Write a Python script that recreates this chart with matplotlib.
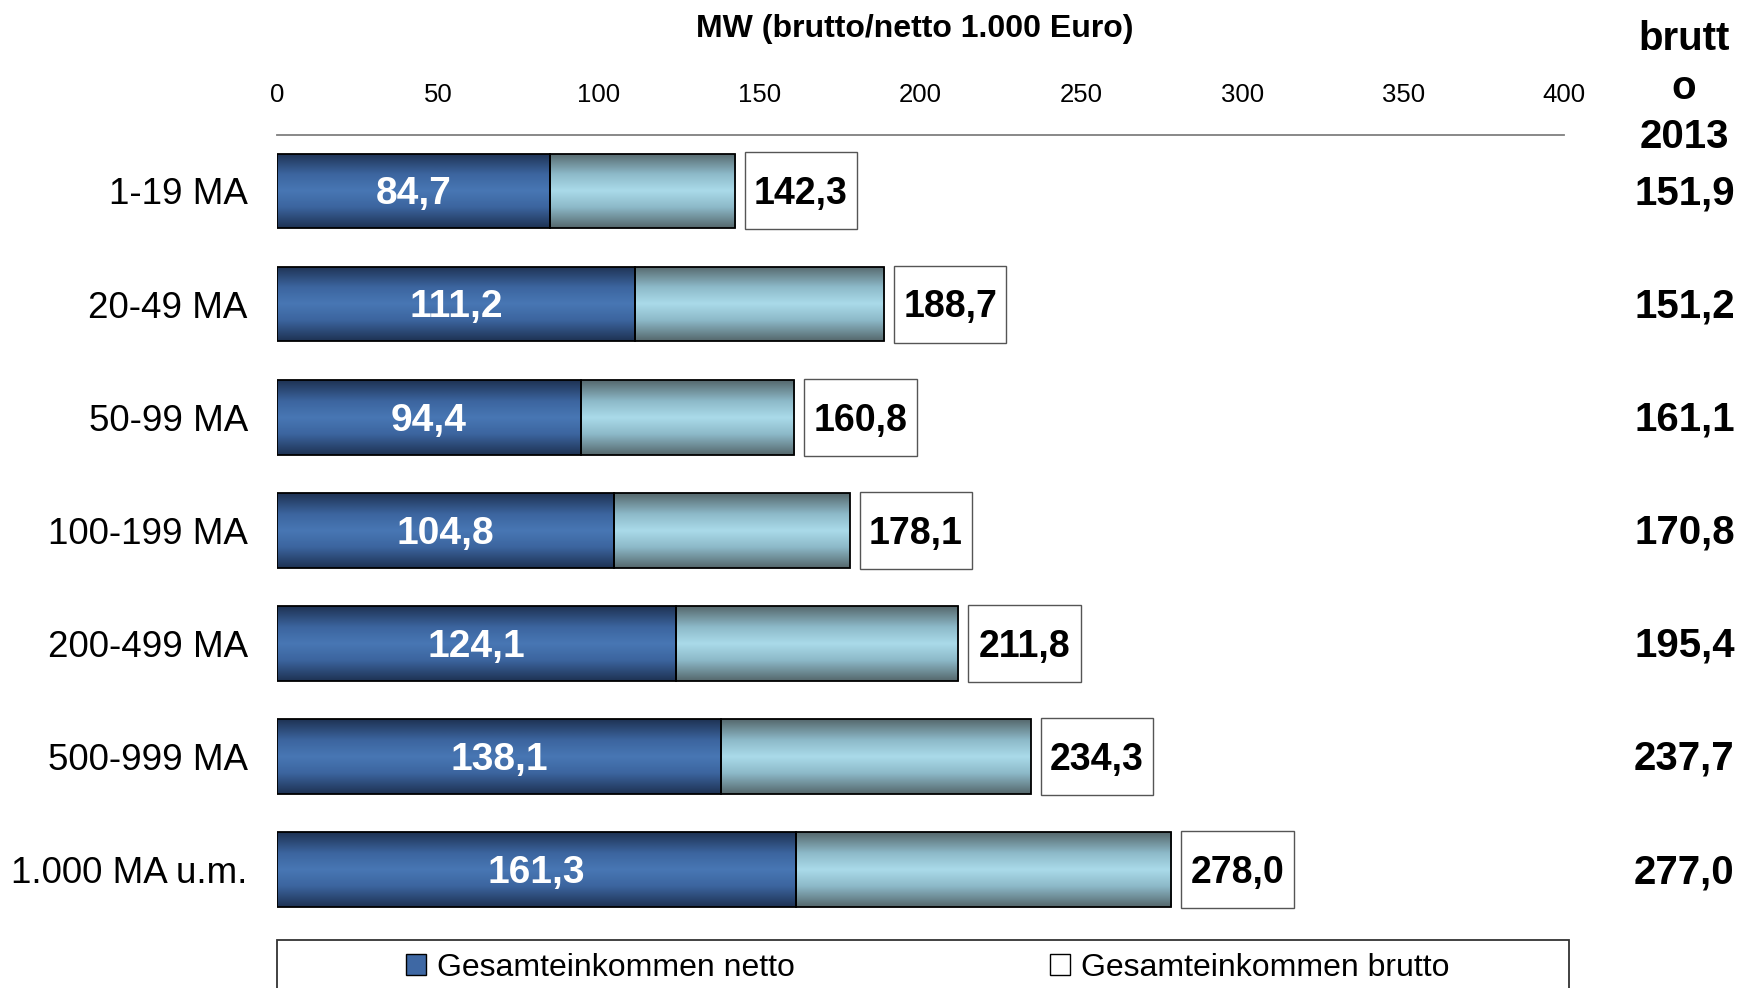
import numpy as np
import matplotlib
matplotlib.use("Agg")
import matplotlib.pyplot as plt
from matplotlib import font_manager
from matplotlib.colors import LinearSegmentedColormap
from matplotlib.patches import Rectangle, Patch
import matplotlib.transforms as mtransforms

# ---------------- data ----------------
categories = ["1-19 MA", "20-49 MA", "50-99 MA", "100-199 MA",
              "200-499 MA", "500-999 MA", "1.000 MA u.m."]
netto = [84.7, 111.2, 94.4, 104.8, 124.1, 138.1, 161.3]
brutto = [142.3, 188.7, 160.8, 178.1, 211.8, 234.3, 278.0]
brutto_2013 = [151.9, 151.2, 161.1, 170.8, 195.4, 237.7, 277.0]
x_ticks = [0, 50, 100, 150, 200, 250, 300, 350, 400]
title = "MW (brutto/netto 1.000 Euro)"
header_right = "brutt\no\n2013"
legend_labels = ["Gesamteinkommen netto", "Gesamteinkommen brutto"]


def fmt(v):
    return f"{v:.1f}".replace(".", ",")


names = {f.name for f in font_manager.fontManager.ttflist}
NARROW = "Liberation Sans Narrow" in names
SANS = ["Liberation Sans", "DejaVu Sans"]
NARROW_FAM = ["Liberation Sans Narrow", "Liberation Sans", "DejaVu Sans"] if NARROW else SANS
k = 1.2 if NARROW else 1.0

W, H = 1745, 988
fig = plt.figure(figsize=(W / 100, H / 100), dpi=100)
ax = fig.add_axes([277 / W, 0.06235, 1287 / W, 0.80101])

y = np.arange(len(categories))
bar_h = 0.66

netto_cmap = LinearSegmentedColormap.from_list(
    "n", [(0, "#1e3253"), (0.28, "#3c659f"), (0.5, "#4877b4"), (0.72, "#3c659f"), (1, "#1e3253")])
brutto_cmap = LinearSegmentedColormap.from_list(
    "b", [(0, "#55676c"), (0.28, "#8dbac9"), (0.5, "#aadae9"), (0.72, "#8dbac9"), (1, "#55676c")])

rest = [b - n for b, n in zip(brutto, netto)]
bars_n = ax.barh(y, netto, height=bar_h, color="#4877b4", zorder=2)
bars_b = ax.barh(y, rest, left=netto, height=bar_h, color="#aadae9", zorder=2)

grad = np.linspace(0, 1, 256).reshape(-1, 1)
for bars, cmap in ((bars_n, netto_cmap), (bars_b, brutto_cmap)):
    for p in bars:
        x0, y0 = p.get_x(), p.get_y()
        w, h = p.get_width(), p.get_height()
        im = ax.imshow(grad, extent=[x0, x0 + w, y0 + h, y0], aspect="auto",
                       cmap=cmap, zorder=2.5, interpolation="bilinear")
        im.set_clip_path(p)
        ax.add_patch(Rectangle((x0, y0), w, h, fill=False, ec="black", lw=1.3, zorder=3))

# labels in netto bars
for p, v in zip(bars_n, netto):
    ax.text(p.get_x() + p.get_width() / 2, p.get_y() + p.get_height() / 2 + 0.03, fmt(v),
            ha="center", va="center", color="white", fontsize=28, fontweight="bold",
            family=SANS, zorder=4)

# brutto boxes
box_gap, box_w, box_h = 3.0, 35.0, 0.68
for yi, v in zip(y, brutto):
    ax.add_patch(Rectangle((v + box_gap, yi - box_h / 2), box_w, box_h, fc="white",
                           ec="#555555", lw=1.0, zorder=3, clip_on=False))
    ax.text(v + box_gap + box_w / 2, yi + 0.03, fmt(v), ha="center", va="center",
            fontsize=27, fontweight="bold", family=SANS, color="black", zorder=4)

# right column brutto 2013
trans = mtransforms.blended_transform_factory(ax.transAxes, ax.transData)
for yi, v in zip(y, brutto_2013):
    ax.text(1.0935, yi + 0.02, fmt(v), transform=trans, ha="center", va="center",
            fontsize=29, fontweight="bold", family=SANS, clip_on=False)
fig.text(1684 / W, 1 - 88 / H, header_right, ha="center", va="center",
         fontsize=29, fontweight="bold", family=SANS, linespacing=1.36)

# axes styling
ax.set_xlim(0, 400)
ax.set_ylim(6.5, -0.494)
ax.xaxis.tick_top()
ax.set_xticks(x_ticks)
ax.set_xticklabels([str(t) for t in x_ticks], family=NARROW_FAM, fontsize=18.5 * k)
ax.tick_params(axis="x", length=0, pad=20)
ax.set_yticks(y)
ax.set_yticklabels(categories, family=SANS, fontsize=26.5)
ax.tick_params(axis="y", length=0, pad=21)
for s in ("left", "right", "bottom"):
    ax.spines[s].set_visible(False)
ax.spines["top"].set_color("#7f7f7f")
ax.spines["top"].set_linewidth(1.3)

fig.text(915 / W, 1 - 29 / H, title, ha="center", va="center",
         fontsize=23 * k, fontweight="bold", family=NARROW_FAM)

# legend frame + legend
fig.add_artist(Rectangle((277 / W, -0.1), 1292 / W, 0.1 + (1 - 940 / H),
                         transform=fig.transFigure, fill=False, ec="#333333", lw=1.3))
handles = [Patch(fc="#3e68a4", ec="black", lw=1.0), Patch(fc="white", ec="black", lw=1.0)]
fig.legend(handles, legend_labels, ncol=2, loc="center left",
           bbox_to_anchor=(406 / W, 1 - 968 / H), bbox_transform=fig.transFigure,
           frameon=False, borderpad=0, borderaxespad=0,
           handlelength=0.62, handleheight=0.62, handletextpad=0.35, columnspacing=8.0,
           prop={"family": NARROW_FAM, "size": 23 * k})

fig.savefig("out.png", dpi=100)
